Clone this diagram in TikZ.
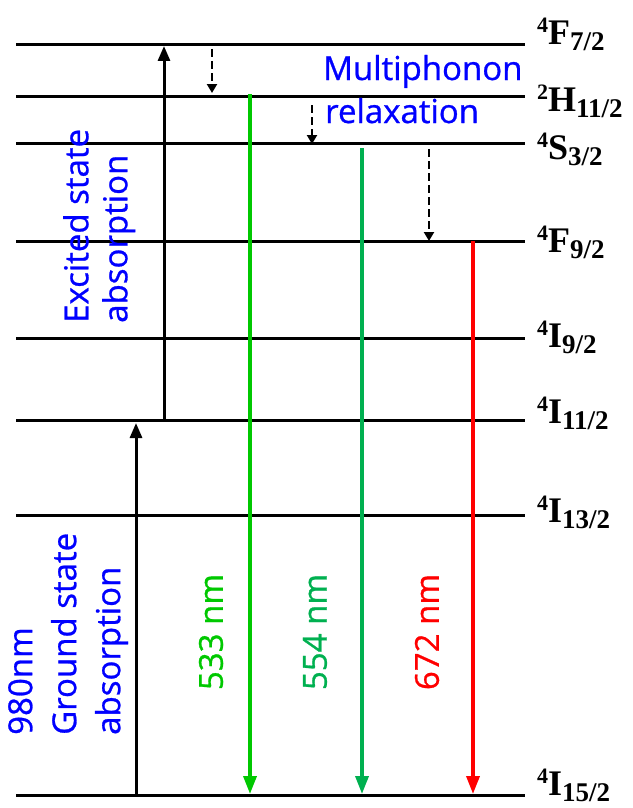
\documentclass[tikz,border=0pt]{standalone}
\usepackage{fontspec}
\setmainfont{Liberation Serif}
\newfontfamily\labfont{Open Sans}[FakeBold=0.8]
\usetikzlibrary{arrows.meta}
\newcommand\lv[3]{{\fontsize{22}{22}\selectfont\raisebox{12pt}{#1}}#2{\fontsize{27}{27}\selectfont\raisebox{-6pt}{#3}}}
\begin{document}
\begin{tikzpicture}[x=1pt,y=-1pt,
  level/.style={line width=3pt},
  pump/.style={line width=3pt,-{Triangle[length=15pt,width=12pt]}},
  emit/.style={line width=3.5pt,-{Triangle[length=18pt,width=13pt]}},
  relax/.style={line width=2.5pt,dash pattern=on 8pt off 4pt,-{Triangle[length=9pt,width=10pt]}},
  blab/.style={font=\labfont\fontsize{33}{40}\selectfont,text=blue,inner sep=0pt},
  wl/.style={font=\labfont\fontsize{33}{40}\selectfont,inner sep=0pt,rotate=90},
  lvl/.style={font=\bfseries\fontsize{36}{36}\selectfont,anchor=base west,inner sep=0pt}]
\useasboundingbox (0,0) rectangle (632,808);
\definecolor{gA}{RGB}{0,200,0}
\definecolor{gB}{RGB}{0,176,80}
% levels
\foreach \n/\y in {1/45,2/96,3/143,4/241,5/338,6/420,7/515,8/795}{
  \coordinate (L\n w) at (16,\y);
  \coordinate (L\n e) at (525,\y);
  \draw[level] (L\n w) -- (L\n e);
}
% level labels
\node[lvl] (t1) at (537,45) {\lv{4}{F}{7/2}};
\node[lvl] (t2) at (537,111) {\lv{2}{H}{11/2}};
\node[lvl] (t3) at (537,159) {\lv{4}{S}{3/2}};
\node[lvl] (t4) at (537,252) {\lv{4}{F}{9/2}};
\node[lvl] (t5) at (537,347) {\lv{4}{I}{9/2}};
\node[lvl] (t6) at (537,423) {\lv{4}{I}{11/2}};
\node[lvl] (t7) at (537,522) {\lv{4}{I}{13/2}};
\node[lvl] (t8) at (537,795) {\lv{4}{I}{15/2}};
% arrow end points
\coordinate (gsa0) at (136,795);
\coordinate (gsa1) at (136,423);
\coordinate (esa0) at (164,420);
\coordinate (esa1) at (164,46);
\coordinate (e1a) at (250,94);
\coordinate (e1b) at (250,794);
\coordinate (e2a) at (362,148);
\coordinate (e2b) at (362,794);
\coordinate (e3a) at (473,241);
\coordinate (e3b) at (473,794);
\coordinate (r1a) at (212,49);
\coordinate (r1b) at (212,93);
\coordinate (r2a) at (312,105);
\coordinate (r2b) at (312,144);
\coordinate (r3a) at (429,149);
\coordinate (r3b) at (429,241);
\draw[pump] (gsa0) -- (gsa1);
\draw[pump] (esa0) -- (esa1);
\draw[emit,gA] (e1a) -- (e1b);
\draw[emit,gB] (e2a) -- (e2b);
\draw[emit,red] (e3a) -- (e3b);
\draw[relax] (r1a) -- (r1b);
\draw[relax] (r2a) -- (r2b);
\draw[relax] (r3a) -- (r3b);
% texts
\node[blab,anchor=base west] (mp) at (323,80) {Multiphonon};
\node[blab,anchor=base west] (rx) at (325,123) {relaxation};
\node[blab,rotate=90,align=left,anchor=north west,font=\labfont\fontsize{33}{39}\selectfont] (esa) at (63,323) {Excited state\\absorption};
\node[blab,rotate=90,align=left,anchor=north west,font=\labfont\fontsize{33}{44}\selectfont] (gsa) at (8,735) {980nm\\Ground state\\absorption};
\node[wl,text=gA] (w1) at (211,632) {533 nm};
\node[wl,text=gB] (w2) at (315,632) {554 nm};
\node[wl,text=red] (w3) at (427,632) {672 nm};
\end{tikzpicture}
\end{document}
